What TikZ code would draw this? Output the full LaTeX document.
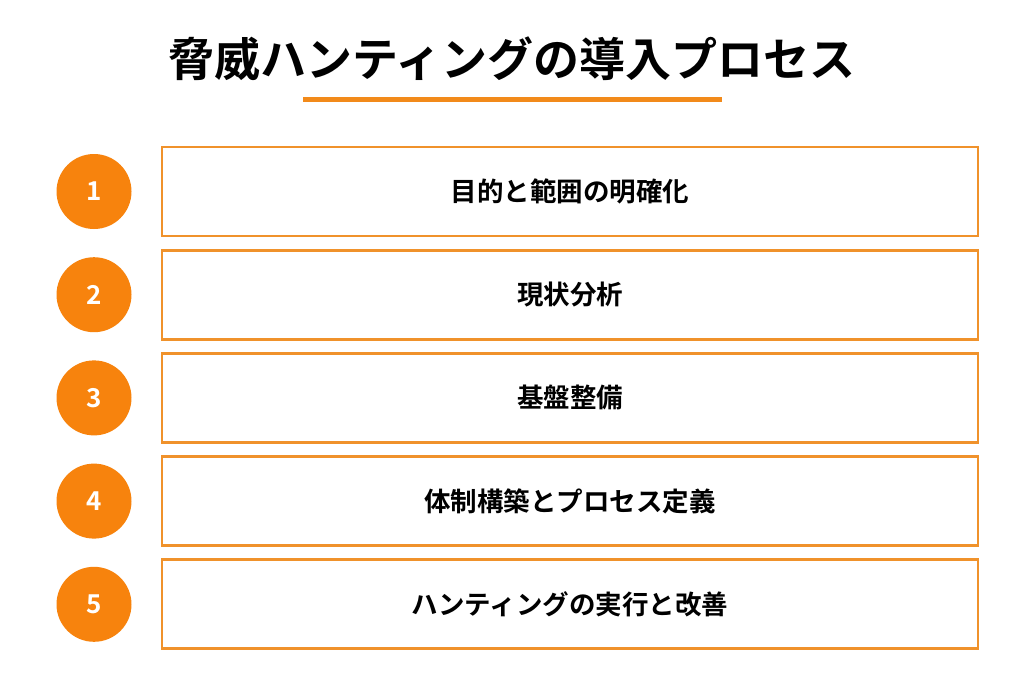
\documentclass[tikz,border=0pt]{standalone}
\usepackage{fontspec}
\setmainfont{Noto Sans CJK JP}[BoldFont={* Bold}]
\definecolor{circorange}{HTML}{F7830D}
\definecolor{boxorange}{HTML}{F0922B}
\definecolor{lineorange}{HTML}{F28A1A}
\begin{document}
\begin{tikzpicture}[x=1pt,y=-1pt,
  stepbox/.style={draw=boxorange,line width=2.8pt,fill=white,minimum width=816pt,minimum height=89pt,inner sep=0pt,font=\fontsize{26.5}{30}\selectfont\bfseries},
  numcirc/.style={circle,fill=circorange,minimum size=75pt,inner sep=0pt,text=white,font=\fontsize{26}{30}\selectfont\bfseries}]
\useasboundingbox (0,0) rectangle (1024,683);
\fill[white] (0,0) rectangle (1024,683);
\node[font=\fontsize{46}{54}\selectfont\bfseries] (title) at (512,59) {脅威ハンティングの導入プロセス};
\coordinate (ulA) at (303,99.5);
\coordinate (ulB) at (722,99.5);
\draw[lineorange,line width=5pt] (ulA) -- (ulB);
\foreach \i/\t [count=\k from 0] in {1/目的と範囲の明確化,2/現状分析,3/基盤整備,4/体制構築とプロセス定義,5/ハンティングの実行と改善}{
  \node[stepbox] (box\i) at (570,{191.5+103.2*\k}) {\t};
  \node[numcirc] (num\i) at (94,{191.5+103.2*\k}) {\i};
}
\end{tikzpicture}
\end{document}
